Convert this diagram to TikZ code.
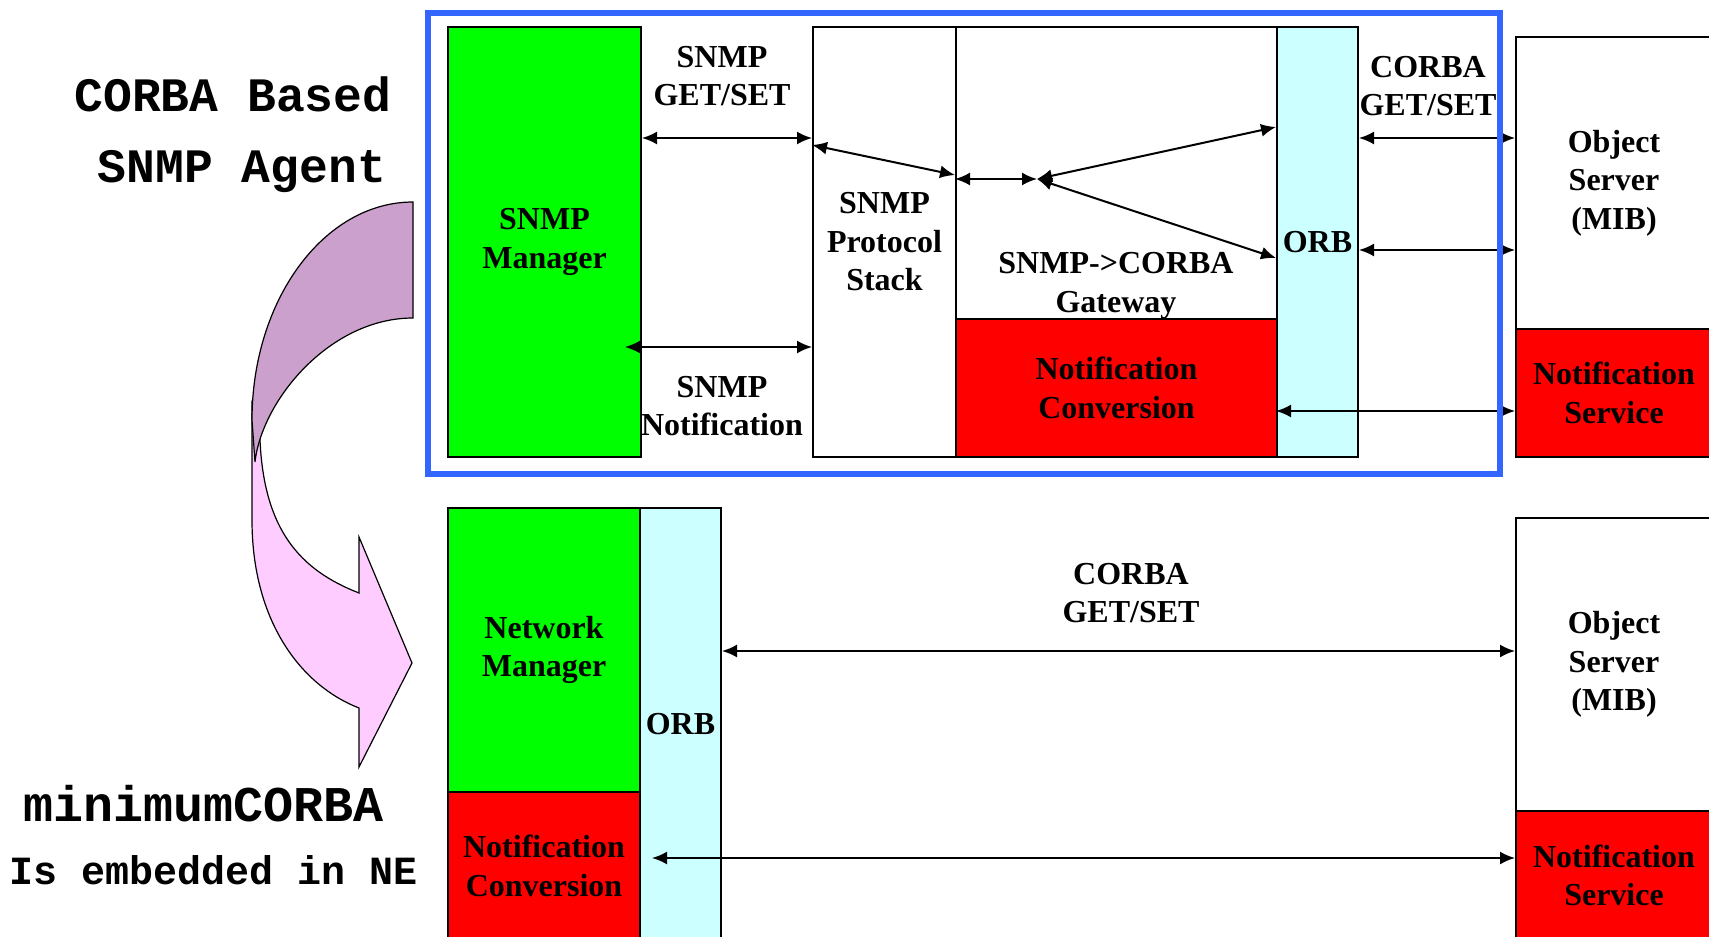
\documentclass[tikz,border=0pt]{standalone}
\usepackage{fontspec}
\setmainfont{Liberation Serif}
\newfontfamily\monofont{Liberation Mono}
\usetikzlibrary{arrows.meta,fit}
\definecolor{mgrgreen}{RGB}{0,255,0}
\definecolor{ntfred}{RGB}{255,0,0}
\definecolor{orbcyan}{RGB}{204,255,255}
\definecolor{frameblue}{RGB}{51,102,255}
\definecolor{ribbonback}{RGB}{204,160,204}
\definecolor{ribbonfront}{RGB}{255,204,255}
\tikzset{
  box/.style={draw, line width=1pt, inner sep=0pt, align=center,
    font=\bfseries\fontsize{16}{19.25}\selectfont},
  lbl/.style={inner sep=0pt, align=center,
    font=\bfseries\fontsize{16}{19.25}\selectfont},
  title/.style={inner sep=0pt, anchor=base,
    font=\monofont\bfseries\fontsize{24}{28}\selectfont},
  dar/.style={line width=1pt,
    {Latex[length=7.5pt,width=6.5pt]}-{Latex[length=7.5pt,width=6.5pt]}},
}

\begin{document}
\begin{tikzpicture}[x=0.5pt, y=-0.5pt]
\useasboundingbox (0,0) rectangle (1709,937);
\clip (0,0) rectangle (1709,937);
% Titles
\node[title] (ttla) at (233,111) {CORBA Based};
\node[title] (ttlb) at (242,182) {SNMP Agent};
\node[title, font=\monofont\bfseries\fontsize{25}{28}\selectfont] (ttlc) at (204,821) {minimumCORBA};
\node[title, font=\monofont\bfseries\fontsize{20}{24}\selectfont] (ttld) at (214,884) {Is embedded in NE};
% Twisted arrow
\filldraw[fill=ribbonfront, line width=0.6pt] (252,405) -- (252,520)
  .. controls (252,620) and (300,685) .. (359,708) -- (359,767) -- (412,663)
  -- (359,537) -- (359,593) .. controls (300,570) and (264,530) .. (260,440) -- cycle;
\filldraw[fill=ribbonback, line width=0.6pt] (413,202)
  .. controls (324,202) and (252,300) .. (252,420) -- (255,462)
  .. controls (262,400) and (330,318) .. (413,318) -- cycle;
% Upper row: SNMP agent
\node[box, fill=mgrgreen, minimum width=96.5pt, minimum height=215pt] (mgr) at (544.5,242) {SNMP\\Manager};
\node[box, fill=white, minimum width=71.5pt, minimum height=215pt] (stack) at (884.5,242) {SNMP\\Protocol\\Stack};
\node[box, fill=white, minimum width=160.5pt, minimum height=146pt] (gw) at (1116.5,173) {};
\node[box, fill=ntfred, minimum width=160.5pt, minimum height=69pt] (conv) at (1116.5,388) {Notification\\Conversion};
\node[box, fill=orbcyan, minimum width=40.5pt, minimum height=215pt] (orb) at (1317.5,242) {ORB};
\node[box, fill=white, minimum width=98pt, minimum height=146pt] (osrv) at (1614,183) {Object\\Server\\(MIB)};
\node[box, fill=ntfred, minimum width=98pt, minimum height=64pt] (nsrv) at (1614,393) {Notification\\Service};
\node[lbl] (gwtxt) at (1116,286) {SNMP->CORBA\\Gateway};
% Lower row: embedded ORB
\node[box, fill=mgrgreen, minimum width=96pt, minimum height=142pt] (nmgr) at (544,650) {Network\\Manager};
\node[box, fill=ntfred, minimum width=96pt, minimum height=74pt] (nconv) at (544,866) {Notification\\Conversion};
\node[box, fill=orbcyan, minimum width=40.5pt, minimum height=216pt] (norb) at (680.5,724) {ORB};
\node[box, fill=white, minimum width=98pt, minimum height=146.5pt] (nosrv) at (1614,664.5) {Object\\Server\\(MIB)};
\node[box, fill=ntfred, minimum width=98pt, minimum height=64.5pt] (nnsrv) at (1614,875.5) {Notification\\Service};
% Connectors
\coordinate (ntip) at (625,347);
\coordinate (hub) at (1037,179);
\coordinate (ntipb) at (652,858);
\draw[dar] (mgr.east |- 0,138) -- (stack.west |- 0,138);
\draw[dar] (ntip) -- (stack.west |- ntip);
\draw[dar] (stack.west |- 0,145) -- (gw.west |- 0,175);
\draw[dar] (gw.west |- hub) -- (hub);
\draw[dar] (hub) -- (orb.west |- 0,127);
\draw[dar] (hub) -- (orb.west |- 0,258);
\draw[dar] (orb.east |- 0,138) -- (osrv.west |- 0,138);
\draw[dar] (orb.east |- 0,250) -- (osrv.west |- 0,250);
\draw[dar] (orb.west |- 0,411) -- (nsrv.west |- 0,411);
\draw[dar] (norb.east |- 0,651) -- (nosrv.west |- 0,651);
\draw[dar] (ntipb) -- (nnsrv.west |- ntipb);
% Labels
\node[lbl] (snmpgs) at (722,76) {SNMP\\GET/SET};
\node[lbl] (snmpnt) at (722,406) {SNMP\\Notification};
\node[lbl] (corbags) at (1428,86) {CORBA\\GET/SET};
\node[lbl] (corbagsb) at (1131,593) {CORBA\\GET/SET};
% Agent frame
\node[draw=frameblue, line width=3pt, inner sep=0pt, fit={(428,13) (1500,474)}] (agent) {};
\end{tikzpicture}
\end{document}
